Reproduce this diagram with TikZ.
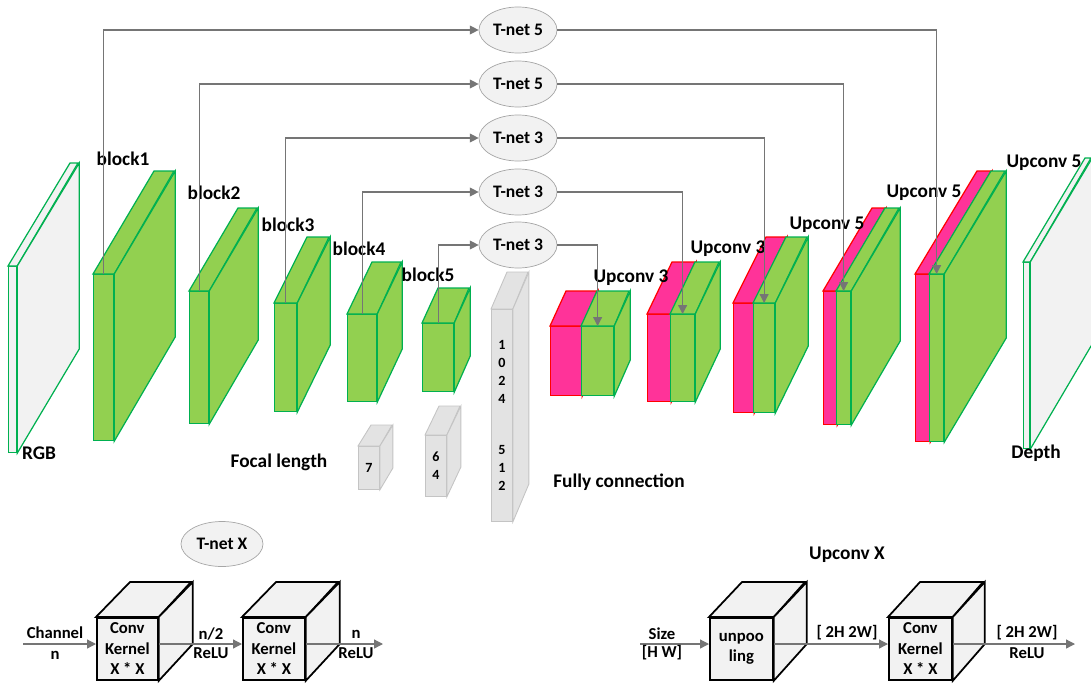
\documentclass[tikz,border=0pt]{standalone}
\usepackage{fontspec}
\setmainfont{Carlito}
\usetikzlibrary{arrows.meta,shapes.geometric}

\definecolor{convfill}{HTML}{92D050}
\definecolor{convline}{HTML}{00B050}
\definecolor{catfill}{HTML}{FF3399}
\definecolor{catline}{HTML}{FF0000}
\definecolor{fcfill}{HTML}{E3E3E3}
\definecolor{fcline}{HTML}{C4C4C4}
\definecolor{imgfill}{HTML}{F2F2F2}
\definecolor{tnetline}{HTML}{A6A6A6}
\definecolor{linkgray}{HTML}{757575}

% front face as a node, top and side faces drawn from its anchors
\newcommand{\cuboid}[9]{%
  \node[#2, anchor=north west, minimum width=#5*0.02cm, minimum height=#6*0.02cm] (#1) at (#3,#4) {#9};
  \draw[#2] (#1.north west) -- ++(#7,#8) -- ++(#5,0) -- (#1.north east) -- cycle;
  \draw[#2] (#1.north east) -- ++(#7,#8) -- ++(0,#6) -- (#1.south east) -- cycle;
}

\begin{document}
\begin{tikzpicture}[x=0.02cm, y=-0.02cm,
conv/.style={draw=convline, fill=convfill, line width=0.7pt, inner sep=0pt},
concat/.style={draw=catline, fill=catfill, line width=0.7pt, inner sep=0pt},
image/.style={draw=convline, fill=imgfill, line width=0.7pt, inner sep=0pt},
fc/.style={draw=fcline, fill=fcfill, line width=0.5pt, inner sep=0pt, align=center,
    font=\bfseries\fontsize{8}{10.2}\selectfont},
unit/.style={draw=black, fill=imgfill, line width=1pt, inner sep=0pt, align=center,
    font=\bfseries\fontsize{9.5}{11.6}\selectfont},
tnet/.style={ellipse, draw=tnetline, fill=imgfill, minimum width=78*0.02cm,
    minimum height=46*0.02cm, inner sep=0pt, font=\bfseries\fontsize{10}{12}\selectfont},
lbl/.style={inner sep=0pt, font=\bfseries\fontsize{11}{13}\selectfont},
note/.style={inner sep=0pt, font=\bfseries\fontsize{9.5}{11}\selectfont},
link/.style={draw=linkgray, line width=0.7pt, -{Triangle[length=5pt,width=5pt]}}]

\useasboundingbox (0,0) rectangle (1091,686);

% encoder
\cuboid{rgb}{image}{8}{266}{8}{186}{62}{-103}{}
\cuboid{b1}{conv}{93}{274}{20}{166}{61}{-103}{}
\cuboid{b2}{conv}{189}{291}{19}{132}{49}{-83}{}
\cuboid{b3}{conv}{274}{303}{22}{108}{33}{-66}{}
\cuboid{b4}{conv}{347}{314}{29}{87}{25}{-52}{}
\cuboid{b5}{conv}{422}{323}{31}{68}{16}{-35}{}

% focal length and fully connected part
\cuboid{f7}{fc}{358}{446}{21}{43}{13}{-21}{7}
\cuboid{f64}{fc}{425}{435}{21}{61}{14}{-29}{6\\4}
\cuboid{fcvec}{fc}{491}{309}{21}{212}{16}{-37}{1\\0\\2\\4\\[19pt]5\\1\\2}

% decoder
\cuboid{u1p}{concat}{550}{326}{31}{69}{16}{-35}{}
\cuboid{u1g}{conv}{581}{326}{32}{69}{16}{-35}{}
\cuboid{u2p}{concat}{647}{314}{23}{87}{25}{-52}{}
\cuboid{u2g}{conv}{670}{314}{24}{87}{25}{-52}{}
\cuboid{u3p}{concat}{733}{303}{20}{109}{33}{-66}{}
\cuboid{u3g}{conv}{753}{303}{21}{109}{33}{-66}{}
\cuboid{u4p}{concat}{823}{291}{13}{133}{49}{-83}{}
\cuboid{u4g}{conv}{836}{291}{14}{133}{49}{-83}{}
\cuboid{u5p}{concat}{915}{274}{14}{167}{62}{-103}{}
\cuboid{u5g}{conv}{929}{274}{14}{167}{62}{-103}{}
\cuboid{depth}{image}{1023}{262}{6}{186}{62}{-104}{}

% skip connections
\node[tnet] (t5a) at (518,30) {T-net 5};
\node[tnet] (t5b) at (518,84) {T-net 5};
\node[tnet] (t3a) at (518,138) {T-net 3};
\node[tnet] (t3b) at (518,192) {T-net 3};
\node[tnet] (t3c) at (518,245) {T-net 3};

\node[lbl] (lb1) at (123,159) {block1};
\node[lbl] (lb2) at (214,193) {block2};
\node[lbl] (lb3) at (288,225) {block3};
\node[lbl] (lb4) at (359,249) {block4};
\node[lbl] (lb5) at (428,275) {block5};
\node[lbl] (lrgb) at (39,453) {RGB};
\node[lbl] (lfocal) at (279,462) {Focal length};
\node[lbl] (lfc) at (619,482) {Fully connection};
\node[lbl] (lu1) at (631,278) {Upconv 3};
\node[lbl] (lu2) at (728,249) {Upconv 3};
\node[lbl] (lu3) at (827,225) {Upconv 5};
\node[lbl] (lu4) at (924,193) {Upconv 5};
\node[lbl] (lu5) at (1044,163) {Upconv 5};
\node[lbl] (ldepth) at (1036,453) {Depth};

\draw[link] (b1.north) |- (t5a);
\draw[link] (b2.north) |- (t5b);
\draw[link] (b3.north) |- (t3a);
\draw[link] (b4.north) |- (t3b);
\draw[link] (b5.north) |- (t3c);
\draw[link] (t5a) -| (u5g.north);
\draw[link] (t5b) -| (u4g.north);
\draw[link] (t3a) -| (u3g.north);
\draw[link] (t3b) -| (u2g.north);
\draw[link] (t3c) -| (u1g.north);

% legend: T-net X
\coordinate (lane) at (0,644);
\node[tnet, minimum width=82*0.02cm, minimum height=45*0.02cm] (tx) at (222,544) {T-net X};
\cuboid{k1}{unit}{96}{617}{61}{62}{34}{-35}{Conv\\Kernel\\X * X}
\cuboid{k2}{unit}{242}{617}{62}{62}{34}{-35}{Conv\\Kernel\\X * X}
\coordinate (tin) at (23,644);
\coordinate (tout) at (383,644);
\draw[link] (tin) -- (k1.west |- lane);
\draw[link] (k1.east |- lane) -- (k2.west |- lane);
\draw[link] (k2.east |- lane) -- (tout);
\node[note] at (55,633) {Channel};
\node[note] at (55,655) {n};
\node[note] at (211,634) {n/2};
\node[note] at (211,653) {ReLU};
\node[note] at (356,634) {n};
\node[note] at (356,653) {ReLU};

% legend: Upconv X
\node[lbl] (ux) at (847,555) {Upconv X};
\cuboid{up}{unit}{709}{617}{63}{62}{33}{-35}{unpoo\\ling}
\cuboid{k3}{unit}{888}{617}{63}{62}{32}{-35}{Conv\\Kernel\\X * X}
\coordinate (uin) at (640,644);
\coordinate (uout) at (1075,644);
\draw[link] (uin) -- (up.west |- lane);
\draw[link] (up.east |- lane) -- (k3.west |- lane);
\draw[link] (k3.east |- lane) -- (uout);
\node[note] at (662,634) {Size};
\node[note] at (662,653) {[H W]};
\node[note] at (847,633) {[ 2H 2W]};
\node[note] at (1027,633) {[ 2H 2W]};
\node[note] at (1027,653) {ReLU};
\end{tikzpicture}
\end{document}
